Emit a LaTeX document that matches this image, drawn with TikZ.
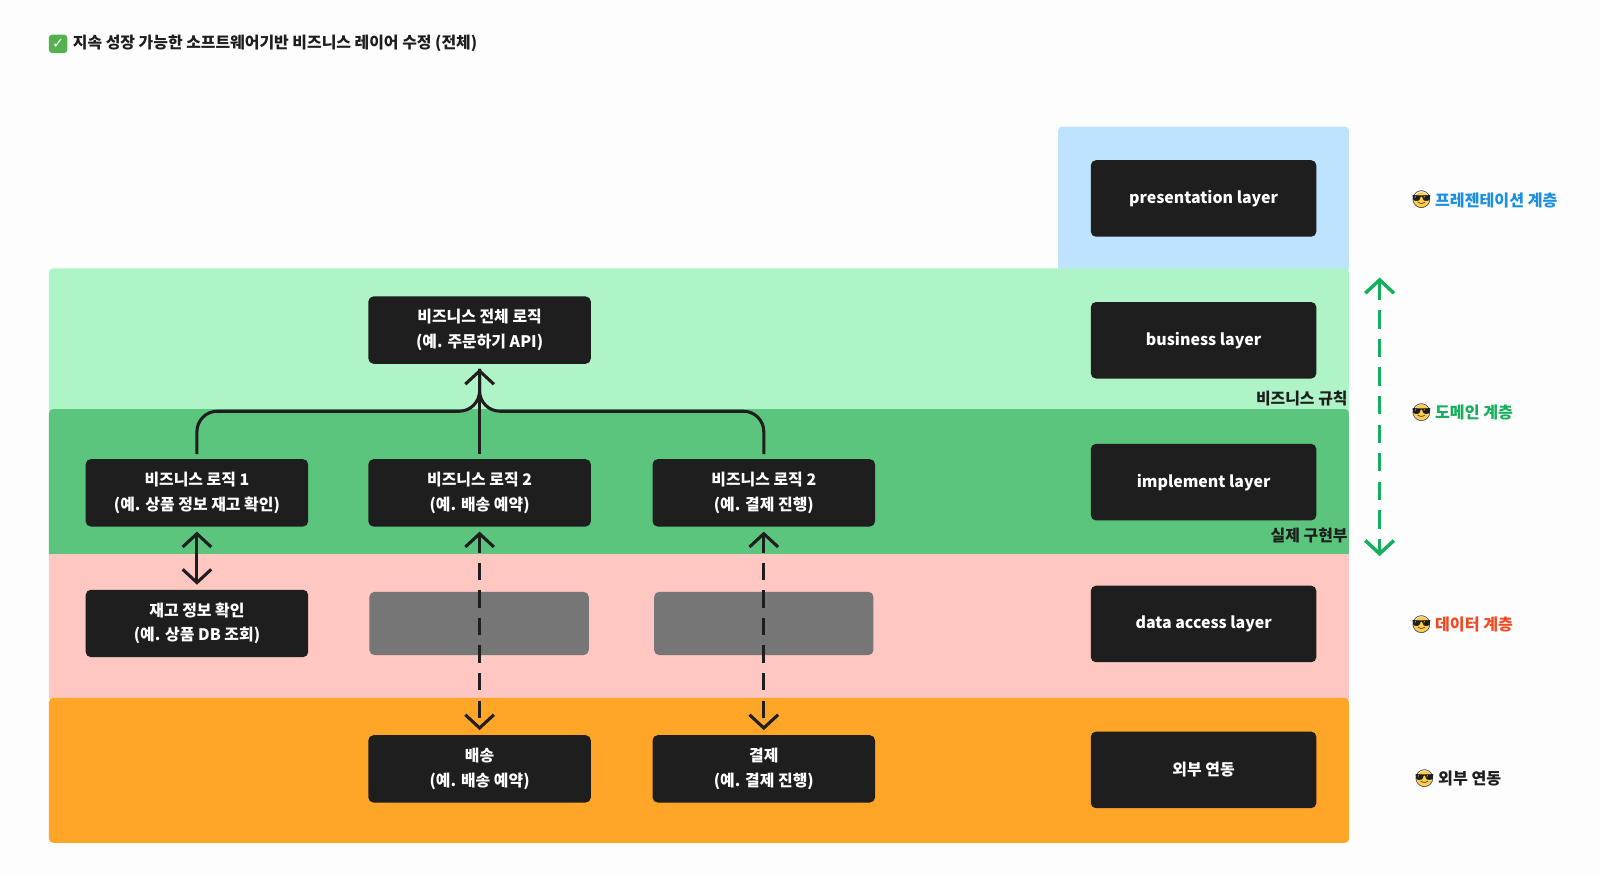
\documentclass[tikz,border=0pt]{standalone}
\usepackage{fontspec}
\setmainfont{Noto Sans CJK KR}
\newfontfamily\emojifont{Noto Emoji}
\newfontfamily\symfont{DejaVu Sans}
\usetikzlibrary{arrows.meta}
\definecolor{bg}{HTML}{FDFDFD}
\definecolor{bluebg}{HTML}{BDE3FE}
\definecolor{lgreen}{HTML}{AFF4C6}
\definecolor{dgreen}{HTML}{5BC47D}
\definecolor{pinkbg}{HTML}{FFC7C2}
\definecolor{orangebg}{HTML}{FFA629}
\definecolor{boxblack}{HTML}{1E1E1E}
\definecolor{graybox}{HTML}{767676}
\definecolor{tdark}{HTML}{1E1E1E}
\definecolor{tblue}{HTML}{1A8FE3}
\definecolor{tgreen}{HTML}{14AE5C}
\definecolor{tred}{HTML}{F04A24}
\definecolor{chkgreen}{HTML}{55B04E}
\definecolor{emojiyellow}{HTML}{FFCC4D}
\tikzset{
  blk/.style={fill=boxblack, text=white, rounded corners=2.5pt, align=center, inner sep=0pt, outer sep=2.5pt, minimum width=109pt, minimum height=33pt},
  lay/.style={blk, minimum width=110.5pt, minimum height=37.5pt},
  graybx/.style={fill=graybox, rounded corners=2.5pt, inner sep=0pt, minimum width=107.5pt, minimum height=31pt},
  arrline/.style={line width=1.5pt, draw=boxblack},
  tip/.tip={Straight Barb[length=6.5pt,width=14pt]},
  arr/.style={arrline, -tip},
  darr/.style={arrline, tip-tip},
  ddarr/.style={arrline, tip-tip, dash pattern=on 8.5pt off 5pt},
  garr/.style={line width=1.7pt, draw=tgreen, dash pattern=on 9pt off 5pt, {Straight Barb[length=6.5pt,width=14pt]}-{Straight Barb[length=6.5pt,width=14pt]}},
  lbl/.style={anchor=west, inner sep=0pt, font=\fontsize{7.9}{12}\selectfont\bfseries},
  emo/.style={circle, fill=emojiyellow, minimum size=7.6pt, inner sep=0pt},
  emoglyph/.style={inner sep=0pt, text=tdark, font=\fontsize{8.4}{8.4}\selectfont\emojifont},
}
\begin{document}
\begin{tikzpicture}[x=0.5pt,y=-0.5pt, font=\fontsize{7.8}{12}\selectfont\bfseries]
\useasboundingbox[fill=bg] (0,0) rectangle (1568,859.4);

% title
\node[fill=chkgreen, rounded corners=1.5pt, minimum size=9pt, inner sep=0pt, text=white, font=\fontsize{7}{7}\selectfont\symfont\bfseries] (chk) at (57,43) {✓};
\node[anchor=west, inner sep=0pt, text=tdark, font=\fontsize{7.8}{12}\selectfont\bfseries] (title) at (71,43) {지속 성장 가능한 소프트웨어기반 비즈니스 레이어 수정 (전체)};

% bands
\fill[bluebg, rounded corners=2pt] (1037,124) rectangle (1322,267);
\fill[lgreen, rounded corners=2pt] (48,263) rectangle (1322,406);
\fill[dgreen, rounded corners=2pt] (48,401) rectangle (1322,546);
\fill[pinkbg, rounded corners=1pt] (48,543) rectangle (1322,686);
\fill[orangebg, rounded corners=2pt] (48,684) rectangle (1322,826);

% right layer boxes
\node[lay] (pres) at (1179.5,194.5) {presentation layer};
\node[lay] (bus)  at (1179.5,333.5) {business layer};
\node[lay] (impl) at (1179.5,472.5) {implement layer};
\node[lay] (dal)  at (1179.5,611.5) {data access layer};
\node[lay] (ext)  at (1179.5,754.5) {외부 연동};

% logic boxes
\node[blk] (main)  at (470,323.5) {비즈니스 전체 로직\\(예. 주문하기 API)};
\node[blk] (l1)    at (193,483) {비즈니스 로직 1\\(예. 상품 정보 재고 확인)};
\node[blk] (l2)    at (470,483) {비즈니스 로직 2\\(예. 배송 예약)};
\node[blk] (l3)    at (748.5,483) {비즈니스 로직 2\\(예. 결제 진행)};
\node[blk] (stock) at (193,611) {재고 정보 확인\\(예. 상품 DB 조회)};
\node[graybx] (g1) at (469.5,611) {};
\node[graybx] (g2) at (748.5,611) {};
\node[blk] (ship)  at (470,753.5) {배송\\(예. 배송 예약)};
\node[blk] (pay)   at (748.5,753.5) {결제\\(예. 결제 진행)};

% connectors
\draw[arrline, rounded corners=10pt] (l1.north) -- (193,403) -- (470,403) -- (main.south);
\draw[arrline, rounded corners=10pt] (l3.north) -- (748.5,403) -- (470,403) -- (main.south);
\draw[arr] (l2.north) -- (main.south);
\draw[darr] (l1.south) -- (stock.north);
\draw[ddarr] (l2.south) -- (ship.north);
\draw[ddarr] (l3.south) -- (pay.north);

% side labels
\node[anchor=east, inner sep=0pt, text=tdark] (rule) at (1321,391) {비즈니스 규칙};
\node[anchor=east, inner sep=0pt, text=tdark] (real) at (1321,525) {실제 구현부};

\coordinate (gtop) at (1352,272);
\coordinate (gbot) at (1352,545);
\draw[garr] (gtop) -- (gbot);

% layer names
\node[emo] (e1) at (1393,196) {};
\node[emoglyph] at (e1) {😎};
\node[lbl, text=tblue] (n1) at (1406,196) {프레젠테이션 계층};

\node[emo] (e2) at (1393,404) {};
\node[emoglyph] at (e2) {😎};
\node[lbl, text=tgreen] (n2) at (1406,404) {도메인 계층};

\node[emo] (e3) at (1393,612) {};
\node[emoglyph] at (e3) {😎};
\node[lbl, text=tred] (n3) at (1406,612) {데이터 계층};

\node[emo] (e4) at (1396,763) {};
\node[emoglyph] at (e4) {😎};
\node[lbl, text=tdark] (n4) at (1409,763) {외부 연동};
\end{tikzpicture}
\end{document}
